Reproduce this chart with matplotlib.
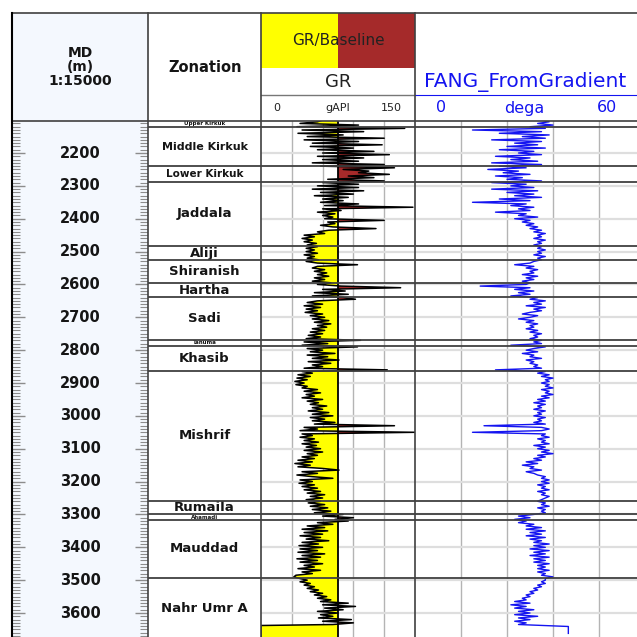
import numpy as np
import matplotlib
matplotlib.use("Agg")
from matplotlib import pyplot as plt
from matplotlib.ticker import MultipleLocator
from matplotlib.patches import Rectangle

W = H = 637

# MD track labels
md_labels = [2200, 2300, 2400, 2500, 2600, 2700, 2800, 2900, 3000,
             3100, 3200, 3300, 3400, 3500, 3600]

# zonation
zone_names = ["Upper Kirkuk", "Middle Kirkuk", "Lower Kirkuk", "Jaddala", "Aliji",
              "Shiranish", "Hartha", "Sadi", "Tanuma", "Khasib", "Mishrif",
              "Rumaila", "Ahamadi", "Mauddad", "Nahr Umr A"]
zone_tops = [2102, 2121, 2240, 2288, 2483, 2526, 2596, 2638, 2769, 2787, 2863,
             3259, 3299, 3317, 3493]
zone_base = 3680

# logs, one sample every 5 m starting at 2100 m
depth_start = 2100
depth_step = 5
gr_values = [
    60, 55, 38, 95, 35, 140, 40, 100, 36, 80, 45, 120, 42, 95, 50, 118, 48, 90, 55, 110,    # 2100
    60, 125, 55, 100, 60, 95, 50, 120, 58, 130, 80, 105, 95, 125, 85, 110, 65, 120, 60, 95,  # 2200
    55, 95, 50, 100, 58, 90, 52, 85, 60, 80, 58, 95, 62, 148, 60, 78, 55, 72, 60, 70,        # 2300
    62, 120, 65, 72, 58, 70, 112, 66, 55, 62, 42, 52, 40, 50, 42, 54, 45, 55, 44, 52,        # 2400
    44, 55, 42, 52, 45, 56, 44, 55, 94, 55, 50, 62, 52, 64, 55, 66, 52, 62, 50, 68,          # 2500
    55, 78, 136, 60, 82, 52, 85, 50, 80, 92, 55, 45, 60, 42, 58, 44, 55, 43, 60, 48,         # 2600
    62, 50, 66, 52, 68, 55, 64, 50, 62, 48, 60, 46, 58, 44, 97, 42, 65, 40, 94, 45,          # 2700
    60, 48, 72, 45, 65, 50, 76, 46, 68, 50, 60, 42, 123, 40, 50, 36, 48, 35, 45, 33,         # 2800
    42, 34, 45, 40, 55, 42, 58, 44, 52, 40, 60, 45, 56, 48, 64, 50, 60, 46, 66, 50,          # 2900
    70, 48, 62, 50, 72, 52, 130, 42, 55, 38, 150, 40, 50, 38, 52, 42, 56, 40, 54, 44,        # 3000
    58, 42, 60, 45, 55, 40, 52, 36, 50, 33, 48, 36, 60, 76, 40, 55, 35, 50, 70, 38,          # 3100
    50, 37, 52, 40, 55, 42, 58, 45, 62, 48, 60, 44, 58, 46, 62, 48, 65, 50, 68, 52,          # 3200
    80, 60, 90, 72, 85, 55, 70, 45, 62, 40, 65, 42, 60, 38, 58, 44, 66, 40, 56, 37,          # 3300
    60, 38, 55, 36, 62, 40, 58, 35, 55, 38, 60, 42, 52, 36, 58, 40, 50, 34, 32, 38,          # 3400
    45, 38, 48, 42, 52, 45, 56, 48, 60, 52, 64, 55, 68, 58, 85, 60, 92, 62, 80, 55,          # 3500
    75, 58, 70, 56, 88, 60, 90, 70,                                                          # 3600
]
gr_tail_depth = [3638, 3680]
gr_tail = [0, 0]

fang_values = [
    33, 35, 32, 36, 30, 34, 15, 33, 22, 35, 28, 34, 20, 33, 26, 32, 24, 34, 22, 31,  # 2100
    27, 33, 21, 30, 25, 32, 20, 33, 22, 29, 19, 27, 23, 30, 21, 28, 24, 33, 20, 29,  # 2200
    25, 31, 20, 32, 24, 31, 26, 33, 22, 30, 15, 29, 25, 31, 27, 30, 21, 29, 27, 32,  # 2300
    26, 30, 28, 31, 29, 32, 30, 33, 31, 34, 32, 33, 31, 34, 32, 33, 31, 33, 32, 34,  # 2400
    32, 33, 31, 34, 32, 33, 31, 30, 26, 31, 29, 32, 30, 31, 28, 32, 29, 31, 28, 30,  # 2500
    29, 17, 30, 26, 31, 27, 30, 25, 32, 30, 34, 31, 33, 29, 34, 31, 33, 30, 28, 32,  # 2600
    30, 27, 31, 29, 32, 30, 31, 29, 32, 30, 33, 31, 32, 30, 33, 31, 33, 25, 34, 31,  # 2700
    29, 32, 28, 31, 30, 33, 29, 31, 30, 32, 31, 33, 21, 34, 32, 35, 33, 36, 34, 35,  # 2800
    33, 35, 34, 36, 33, 35, 34, 36, 33, 35, 32, 34, 31, 34, 32, 33, 31, 34, 32, 33,  # 2900
    31, 34, 32, 33, 31, 34, 18, 33, 35, 33, 15, 34, 33, 35, 32, 34, 33, 35, 31, 34,  # 3000
    32, 35, 33, 36, 32, 34, 31, 33, 29, 32, 28, 31, 30, 33, 29, 31, 32, 34, 33, 35,  # 3100
    33, 35, 32, 34, 33, 35, 32, 34, 33, 35, 34, 33, 32, 34, 33, 35, 32, 34, 33, 34,  # 3200
    31, 27, 30, 26, 29, 27, 31, 29, 33, 29, 34, 30, 33, 29, 34, 30, 33, 31, 35, 31,  # 3300
    34, 30, 35, 31, 34, 30, 35, 31, 34, 31, 35, 32, 34, 32, 35, 32, 34, 33, 36, 34,  # 3400
    34, 33, 34, 32, 33, 31, 32, 30, 31, 29, 30, 28, 29, 26, 30, 25, 29, 26, 31, 27,  # 3500
    30, 26, 32, 27, 30, 26, 29, 27,                                                  # 3600
]
fang_tail_depth = [3641, 3662]
fang_tail = [40, 40]

gr_baseline = 75
gr_grid = [30, 60, 90, 120]
fang_grid = [12, 24, 36, 48]

depth = depth_start + depth_step * np.arange(len(gr_values))
gr = np.concatenate([gr_values, gr_tail]).astype(float)
gr_depth = np.concatenate([depth, gr_tail_depth])
fang = np.concatenate([fang_values, fang_tail]).astype(float)
fang_depth = np.concatenate([depth, fang_tail_depth])

TOP, BOTTOM = 2102.6, 3673.0
LINE = '#404040'
BLUE = '#1414f0'

fig = plt.figure(figsize=(6.37, 6.37), dpi=100, facecolor='white')


def px_axes(x0, y0, x1, y1):
    return fig.add_axes([x0 / W, 1 - y1 / H, (x1 - x0) / W, (y1 - y0) / H])


ax_md = px_axes(12, 121, 148, 637)
ax_zone = px_axes(148, 121, 261, 637)
ax_gr = px_axes(261, 121, 415, 637)
ax_fang = px_axes(415, 121, 645, 637)

for ax in (ax_md, ax_zone, ax_gr, ax_fang):
    ax.set_ylim(BOTTOM, TOP)
    ax.set_xticks([])
    for s in ax.spines.values():
        s.set_visible(False)
for ax in (ax_zone, ax_gr, ax_fang):
    ax.set_yticks([])

# MD track
ax_md.set_facecolor('#F4F8FE')
ax_md.yaxis.set_major_locator(MultipleLocator(100))
ax_md.yaxis.set_minor_locator(MultipleLocator(10))
ax_md.tick_params(axis='y', which='both', direction='in', left=True, right=True,
                  labelleft=False, labelright=False, color='#8c8c8c')
ax_md.tick_params(axis='y', which='major', length=9.5, width=1.0)
ax_md.tick_params(axis='y', which='minor', length=5.5, width=0.8)
for d in md_labels:
    ax_md.text(0.5, d, str(d), transform=ax_md.get_yaxis_transform(), ha='center',
               va='center', fontsize=10.5, fontweight='bold', color='#151515')

# zonation track
small = {"Upper Kirkuk": 4, "Tanuma": 4, "Ahamadi": 4,
         "Middle Kirkuk": 8, "Lower Kirkuk": 7.5}
bases = zone_tops[1:] + [zone_base]
for name, top, base in zip(zone_names, zone_tops, bases):
    ax_zone.text(0.5, (top + base) / 2, name, transform=ax_zone.get_yaxis_transform(),
                 ha='center', va='center', fontweight='bold', color='#151515',
                 fontsize=small.get(name, 9.5))

for ax in (ax_zone, ax_gr, ax_fang):
    for top in zone_tops[1:]:
        ax.axhline(top, color=LINE, lw=1.3, zorder=4)

# GR track
ax_gr.set_xlim(0, 150)
for g in gr_grid:
    ax_gr.axvline(g, color='#b4b4b4', lw=1.0, zorder=0)
for d in md_labels:
    ax_gr.axhline(d, color='#dedede', lw=1.6, zorder=0)
ax_gr.fill_betweenx(gr_depth, gr, gr_baseline, where=gr <= gr_baseline,
                    interpolate=True, color='#FFFF00', lw=0, zorder=1)
ax_gr.fill_betweenx(gr_depth, gr, gr_baseline, where=gr >= gr_baseline,
                    interpolate=True, color='#A52A2A', lw=0, zorder=1)
ax_gr.plot(gr, gr_depth, color='black', lw=1.1, zorder=2)
ax_gr.axvline(gr_baseline, color='black', lw=1.3, zorder=3)

# FANG track
ax_fang.set_xlim(0, 60)
for g in fang_grid:
    ax_fang.axvline(g, color='#b4b4b4', lw=1.0, zorder=0)
for d in md_labels:
    ax_fang.axhline(d, color='#dedede', lw=1.6, zorder=0)
ax_fang.plot(fang, fang_depth, color=BLUE, lw=1.0, zorder=2)

# header and track borders drawn in pixel space
ov = fig.add_axes([0, 0, 1, 1])
ov.set_xlim(0, W)
ov.set_ylim(H, 0)
ov.axis('off')

ov.add_patch(Rectangle((12, 13), 136, 108, color='#F4F8FE', lw=0))
ov.add_patch(Rectangle((261, 13), 77, 55, color='#FFFF00', lw=0))
ov.add_patch(Rectangle((338, 13), 77, 55, color='#A52A2A', lw=0))

ov.plot([12, W], [13, 13], color=LINE, lw=1.2)
ov.plot([12, W], [121, 121], color=LINE, lw=1.2)
ov.plot([261, 415], [95, 95], color='#777777', lw=1.0)
ov.plot([415, W], [95, 95], color=BLUE, lw=0.8)
ov.plot([12, 12], [13, H], color='black', lw=1.5)
for x in (148, 261, 415):
    ov.plot([x, x], [13, H], color=LINE, lw=1.2)

for y, s in zip((53, 67, 81), ("MD", "(m)", "1:15000")):
    ov.text(80, y, s, ha='center', va='center', fontsize=10, fontweight='bold',
            color='#151515')
ov.text(205, 68, "Zonation", ha='center', va='center', fontsize=10.5,
        fontweight='bold', color='#151515')
ov.text(338, 41, "GR/Baseline", ha='center', va='center', fontsize=11, color='#222222')
ov.text(338, 82, "GR", ha='center', va='center', fontsize=13, color='#222222')
ov.text(277, 108, "0", ha='center', va='center', fontsize=8, color='#222222')
ov.text(338, 108, "gAPI", ha='center', va='center', fontsize=8, color='#222222')
ov.text(391, 108, "150", ha='center', va='center', fontsize=8, color='#222222')

ov.text(424, 82, "FANG_FromGradient", ha='left', va='center', fontsize=14.5,
        color=BLUE, clip_on=True)
ov.text(441, 108, "0", ha='center', va='center', fontsize=11.5, color=BLUE)
ov.text(524, 108, "dega", ha='center', va='center', fontsize=11.5, color=BLUE)
ov.text(607, 108, "60", ha='center', va='center', fontsize=11.5, color=BLUE)

fig.savefig('out.png', dpi=100, facecolor='white')
